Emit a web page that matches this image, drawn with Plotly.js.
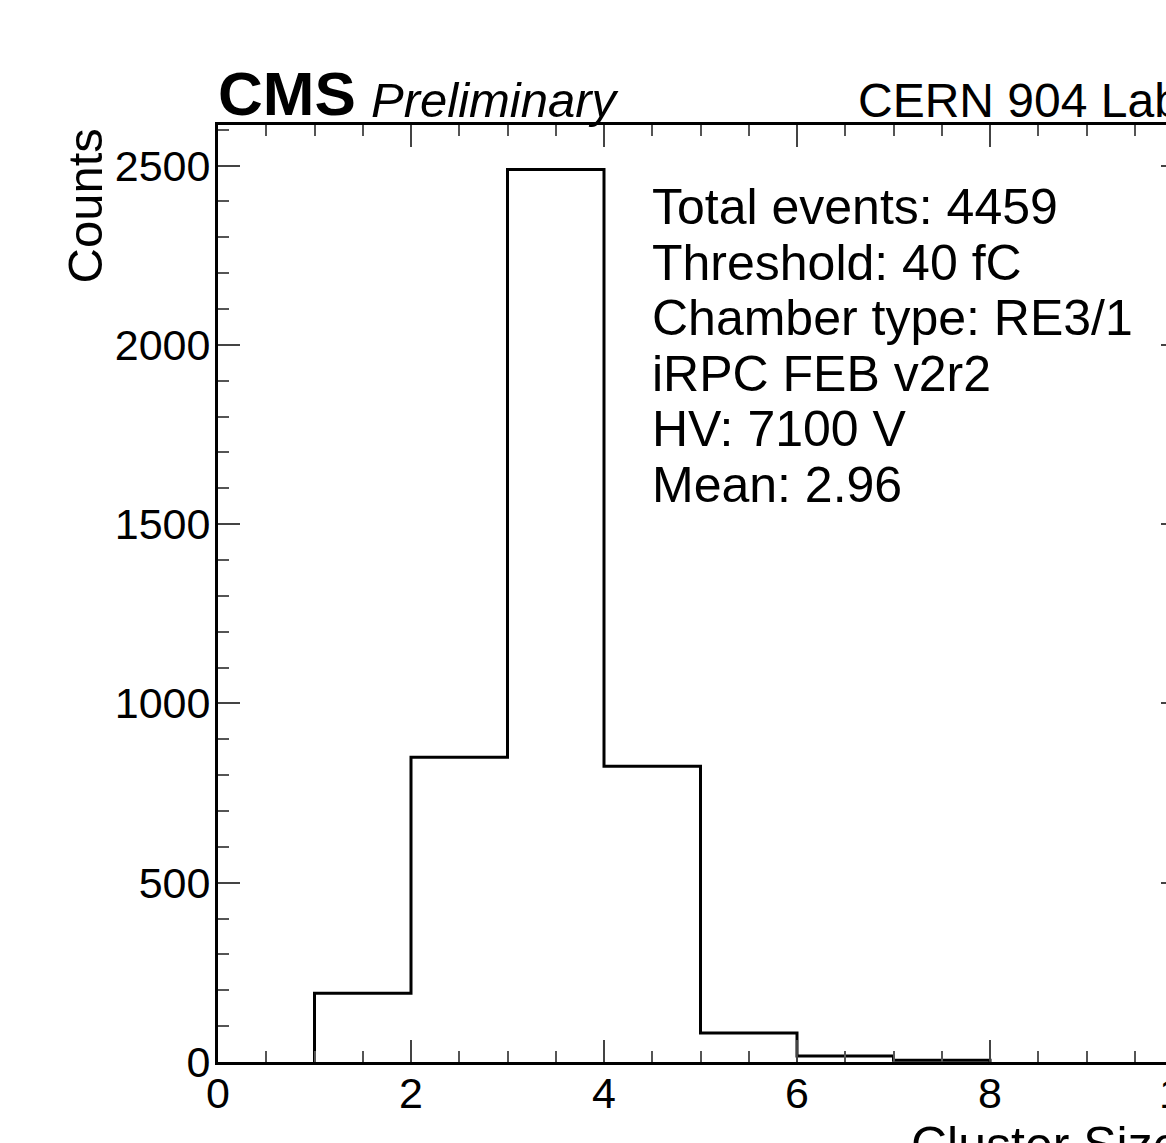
<!DOCTYPE html>
<html>
<head>
<meta charset="utf-8">
<script src="https://cdn.plot.ly/plotly-3.0.1.min.js"></script>
<style>
html, body { margin: 0; padding: 0; overflow: hidden; background: #fff; width: 1166px; height: 1143px; }
#chart { width: 1240px; height: 1143px; }
</style>
</head>
<body>
<div id="chart"></div>
<script>
// ---- data ----
const binLowEdges = [1, 2, 3, 4, 5, 6, 7];
const binCounts   = [192, 850, 2489, 825, 81, 17, 5];
const infoLines = [
  "Total events: 4459",
  "Threshold: 40 fC",
  "Chamber type: RE3/1",
  "iRPC FEB v2r2",
  "HV: 7100 V",
  "Mean: 2.96"
];
const xTitle = "Cluster Size";
const yTitle = "Counts";
const xRange = [0, 10];
const yRange = [0, 2613];

// build step outline from bins (ROOT-style histogram)
const stepX = [binLowEdges[0]];
const stepY = [0];
for (let i = 0; i < binLowEdges.length; i++) {
  stepX.push(binLowEdges[i]);
  stepY.push(binCounts[i]);
}
stepX.push(binLowEdges[binLowEdges.length - 1] + 1);
stepY.push(0);

const FONT = "Liberation Sans, Arial, Helvetica, sans-serif";
const W = 1240, H = 1143;
const mL = 218, mR = W - 1183, mT = 125, mB = H - 1062;
const plotH = H - mT - mB;
const plotW = W - mL - mR;
const pyPaper = (px) => (H - mB - px) / plotH;
const pxPaper = (px) => (px - mL) / plotW;

const trace = {
  x: stepX, y: stepY, type: 'scatter', mode: 'lines',
  line: { shape: 'hv', color: '#000', width: 3 },
  hoverinfo: 'skip', showlegend: false
};

const annotations = [
  { text: "<b>CMS</b>", xref: 'paper', yref: 'paper', x: 0, y: 1, xanchor: 'left', yanchor: 'bottom',
    showarrow: false, font: { family: FONT, size: 62, color: '#000' }, xshift: -2, yshift: -5 },
  { text: "<i>Preliminary</i>", xref: 'paper', yref: 'paper', x: pxPaper(369), y: 1, xanchor: 'left', yanchor: 'bottom',
    showarrow: false, font: { family: FONT, size: 49, color: '#000' }, yshift: -4 },
  { text: "CERN 904 Lab", xref: 'paper', yref: 'paper', x: 1, y: 1, xanchor: 'right', yanchor: 'bottom',
    showarrow: false, font: { family: FONT, size: 48, color: '#000' }, yshift: -4 },
  { text: yTitle, xref: 'paper', yref: 'paper', x: pxPaper(84), y: pyPaper(127), xanchor: 'center', yanchor: 'top',
    textangle: -90, showarrow: false, font: { family: FONT, size: 49, color: '#000' } },
  { text: xTitle, xref: 'paper', yref: 'paper', x: 1, y: pyPaper(1115), xanchor: 'right', yanchor: 'top',
    showarrow: false, font: { family: FONT, size: 50, color: '#000' } }
];
infoLines.forEach((t, i) => {
  annotations.push({
    text: t, xref: 'paper', yref: 'paper', x: pxPaper(650), y: pyPaper(207 + 55.5 * i),
    xanchor: 'left', yanchor: 'middle', showarrow: false,
    font: { family: FONT, size: 50, color: '#000' }
  });
});

const layout = {
  width: W, height: H,
  margin: { l: mL, r: mR, t: mT, b: mB },
  paper_bgcolor: '#fff', plot_bgcolor: '#fff',
  font: { family: FONT, color: '#000' },
  showlegend: false,
  xaxis: {
    range: xRange, dtick: 2, tick0: 0, ticks: 'inside', ticklen: 22, tickwidth: 2, tickcolor: '#444',
    showline: true, linecolor: '#000', linewidth: 3, mirror: 'ticks',
    showgrid: false, zeroline: false, ticklabelstandoff: -9,
    tickfont: { family: FONT, size: 43, color: '#000' },
    minor: { dtick: 0.5, tick0: 0, ticks: 'inside', ticklen: 11, tickwidth: 2, tickcolor: '#555', showgrid: false }
  },
  yaxis: {
    range: yRange, dtick: 500, tick0: 0, ticks: 'inside', ticklen: 22, tickwidth: 2, tickcolor: '#444',
    showline: true, linecolor: '#000', linewidth: 3, mirror: 'ticks',
    showgrid: false, zeroline: false, ticklabelstandoff: -4,
    tickfont: { family: FONT, size: 43, color: '#000' },
    minor: { dtick: 100, tick0: 0, ticks: 'inside', ticklen: 11, tickwidth: 2, tickcolor: '#555', showgrid: false }
  },
  annotations: annotations
};

Plotly.newPlot('chart', [trace], layout, { displayModeBar: false, staticPlot: true });
</script>
</body>
</html>
